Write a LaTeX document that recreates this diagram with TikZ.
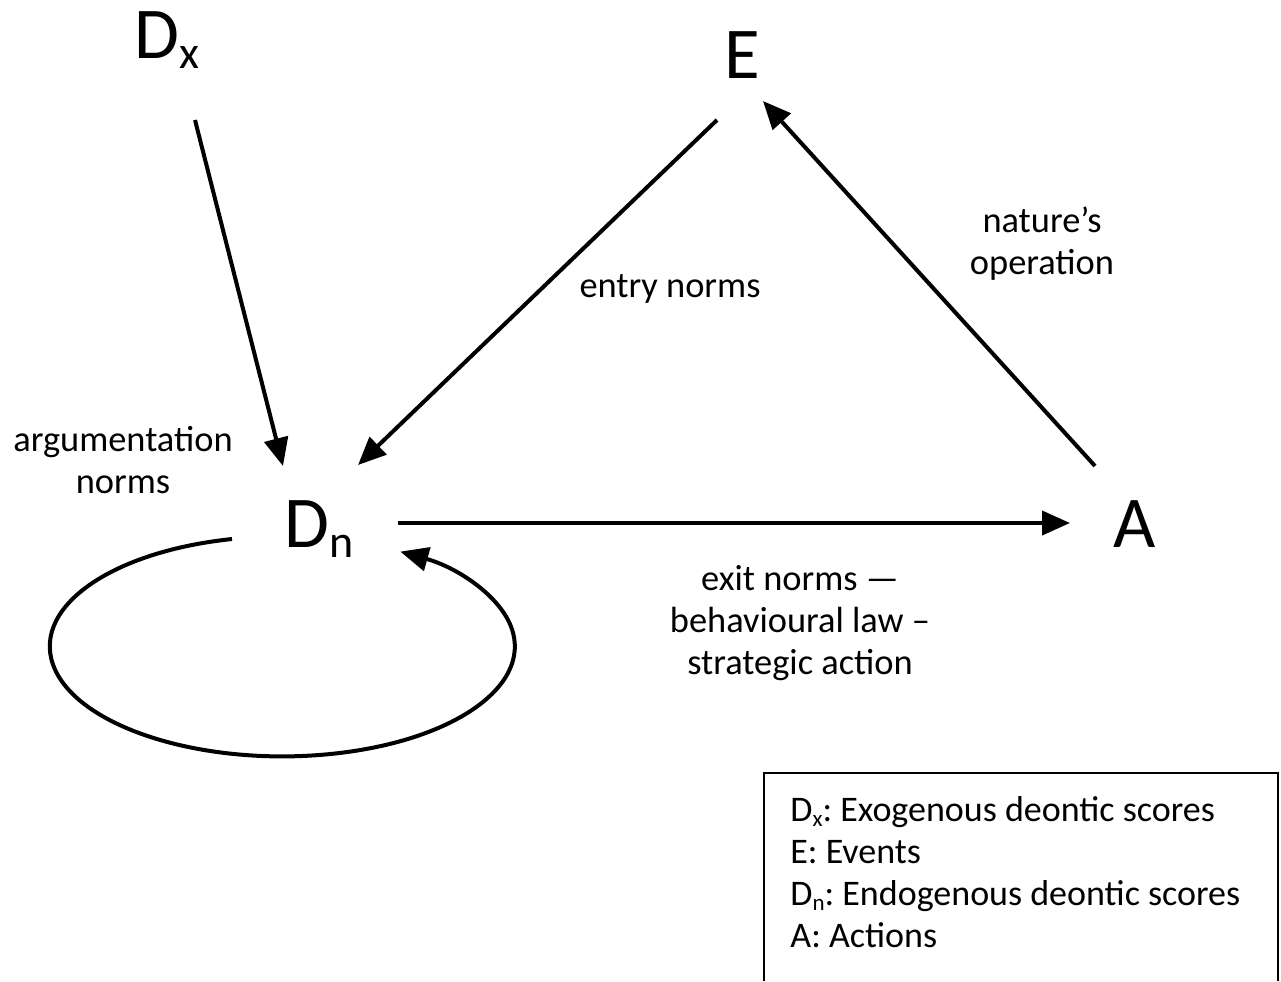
\documentclass[tikz,border=0pt]{standalone}
\usepackage{fontspec}
\setmainfont{Carlito}
\usetikzlibrary{arrows.meta,calc}
\newcommand{\bigsub}[1]{{\fontsize{23}{23}\selectfont\raisebox{-5pt}{#1}}}
\newcommand{\smallsub}[1]{{\fontsize{11.5}{11.5}\selectfont\raisebox{-2.5pt}{#1}}}
\frenchspacing
\begin{document}
\begin{tikzpicture}[x=0.5pt,y=-0.5pt,
  letter/.style={inner sep=0pt, anchor=base west, font=\fontsize{36.5}{40}\selectfont},
  lbl/.style={inner sep=0pt, align=center, anchor=base, font=\fontsize{18.2}{21}\selectfont},
  arr/.style={line width=2pt, -{Triangle[length=14pt,width=12pt]}},
  legendbox/.style={line width=0.75pt},
  legendtext/.style={inner sep=0pt, align=left, anchor=base west, font=\fontsize{18}{20.85}\selectfont}]
\useasboundingbox (0,0) rectangle (1281,981);

% main nodes
\node[letter] (Dx) at (134,58) {D\bigsub{x}};
\node[letter] (E)  at (724,78) {E};
\node[letter] (Dn) at (284,547) {D\bigsub{n}};
\node[letter] (A)  at (1113,547) {A};

% connectors
\draw[arr] ($(Dx.base west)+(61,62)$) -- ($(Dn.base west)+(-1,-81)$);
\draw[arr] ($(E.base west)+(-7,42)$) -- ($(Dn.base west)+(74,-82)$);
\draw[arr] ($(A.base west)+(-18,-81)$) -- ($(E.base west)+(39,23)$);
\draw[arr] ($(Dn.base west)+(114,-24)$) -- ($(A.base west)+(-43,-24)$);
\draw[arr] ($(Dn.base west)+(-52,-8)$) arc[start angle=257.5, end angle=-59.5, x radius=232.5, y radius=110];

% labels (anchor base = baseline of last line)
\node[lbl] (argl) at (123,493) {argumentation\\norms};
\node[lbl] (entl) at (670,297) {entry norms};
\node[lbl] (natl) at (1042,274) {nature’s\\operation};
\node[lbl] (exil) at (800,674) {exit norms —\\behavioural law –\\strategic action};

% legend
\draw[legendbox] (764,981) -- (764,773) -- (1278,773) -- (1278,981);
\node[legendtext] (leg) at (790,947) {D\smallsub{x}: Exogenous deontic scores\\E: Events\\D\smallsub{n}: Endogenous deontic scores\\A: Actions};
\end{tikzpicture}
\end{document}
